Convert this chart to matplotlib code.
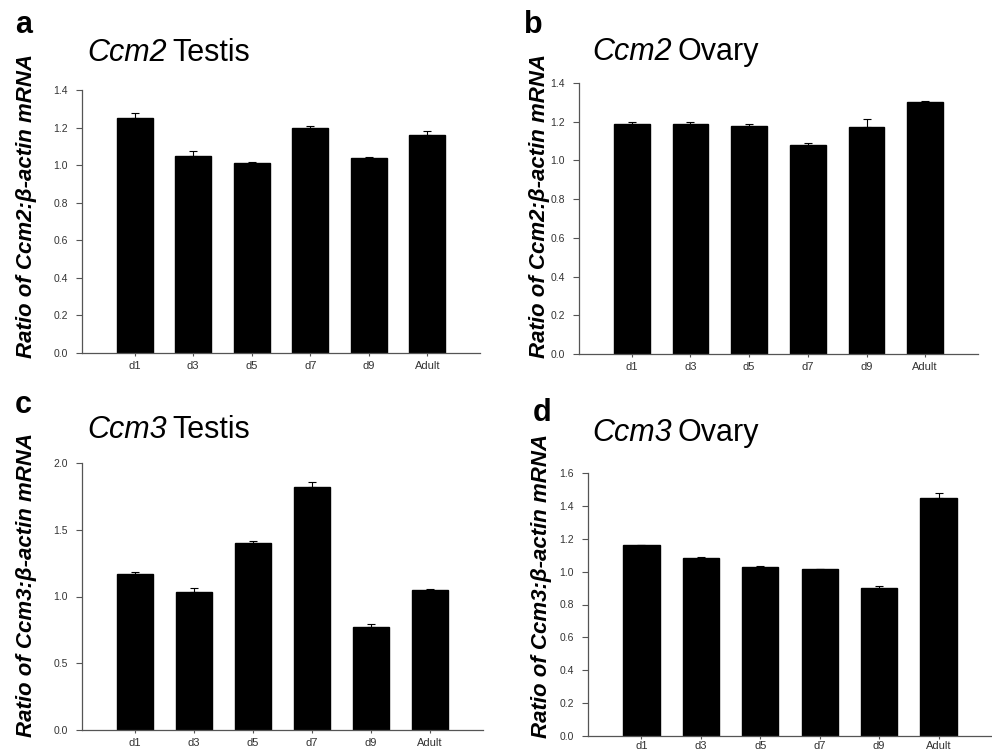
import matplotlib

matplotlib.use("Agg")
import matplotlib.pyplot as plt  # noqa: E402

plt.rcParams["font.family"] = ["Liberation Sans", "DejaVu Sans"]

W, H = 992, 750

groups = ["d1", "d3", "d5", "d7", "d9", "Adult"]

ccm2_testis = [1.25, 1.05, 1.01, 1.20, 1.04, 1.16]
ccm2_testis_err = [0.025, 0.025, 0.006, 0.006, 0.005, 0.02]
ccm2_ovary = [1.19, 1.19, 1.18, 1.08, 1.175, 1.30]
ccm2_ovary_err = [0.006, 0.006, 0.01, 0.01, 0.04, 0.006]
ccm3_testis = [1.165, 1.035, 1.40, 1.82, 0.775, 1.05]
ccm3_testis_err = [0.017, 0.032, 0.012, 0.037, 0.017, 0.007]
ccm3_ovary = [1.16, 1.085, 1.03, 1.015, 0.90, 1.45]
ccm3_ovary_err = [0.005, 0.002, 0.002, 0.003, 0.012, 0.03]

yticks_a = [0.0, 0.2, 0.4, 0.6, 0.8, 1.0, 1.2, 1.4]
yticks_c = [0.0, 0.5, 1.0, 1.5, 2.0]
yticks_d = [0.0, 0.2, 0.4, 0.6, 0.8, 1.0, 1.2, 1.4, 1.6]

# panel layout in pixels: (left, right, top, bottom) of the axes frame
panels = [
    dict(letter="a", gene="Ccm2", tissue="Testis", vals=ccm2_testis, err=ccm2_testis_err,
         ticks=yticks_a, box=(82, 480, 90, 353), letter_xy=(15, 25), title_xy=(87, 53),
         ylab_xy=(27, 358), xpad=3.5),
    dict(letter="b", gene="Ccm2", tissue="Ovary", vals=ccm2_ovary, err=ccm2_ovary_err,
         ticks=yticks_a, box=(579, 978, 83, 354), letter_xy=(524, 25), title_xy=(592, 52),
         ylab_xy=(539, 358), xpad=3.5),
    dict(letter="c", gene="Ccm3", tissue="Testis", vals=ccm3_testis, err=ccm3_testis_err,
         ticks=yticks_c, box=(82, 483, 463, 730), letter_xy=(15, 405), title_xy=(87, 430),
         ylab_xy=(27, 737), xpad=3),
    dict(letter="d", gene="Ccm3", tissue="Ovary", vals=ccm3_ovary, err=ccm3_ovary_err,
         ticks=yticks_d, box=(588, 992, 473, 736), letter_xy=(533, 413), title_xy=(592, 433),
         ylab_xy=(541, 738), xpad=1),
]

fig = plt.figure(figsize=(W / 100, H / 100), dpi=100)
renderer = fig.canvas.get_renderer()

for p in panels:
    l, r, t, b = p["box"]
    ax = fig.add_axes([l / W, 1 - b / H, (r - l) / W, (b - t) / H])
    x = range(len(groups))
    ax.bar(x, p["vals"], width=0.61, color="black", edgecolor="black",
           yerr=[[0] * len(groups), p["err"]], capsize=3,
           error_kw=dict(ecolor="black", elinewidth=0.8, capthick=0.8))
    ax.set_xlim(-0.9, 5.9)
    ax.set_ylim(0, p["ticks"][-1])
    ax.set_yticks(p["ticks"])
    ax.set_yticklabels([f"{v:.1f}" for v in p["ticks"]])
    ax.set_xticks(list(x))
    ax.set_xticklabels(groups)
    ax.tick_params(axis="y", length=4, width=0.8, pad=6, labelsize=7.5,
                   colors="#555555", labelcolor="#333333")
    ax.tick_params(axis="x", length=2.5, width=0.8, pad=p["xpad"], labelsize=8,
                   colors="#555555", labelcolor="#333333")
    for side in ("top", "right"):
        ax.spines[side].set_visible(False)
    for side in ("left", "bottom"):
        ax.spines[side].set_color("#555555")
        ax.spines[side].set_linewidth(0.9)

    lx, ly = p["letter_xy"]
    fig.text(lx / W, 1 - ly / H, p["letter"], fontsize=22, fontweight="bold",
             ha="left", va="center")

    # title: italic gene name followed by upright tissue name
    tx, ty = p["title_xy"]
    gene = fig.text(tx / W, 1 - ty / H, p["gene"], fontsize=22, fontstyle="italic",
                    ha="left", va="center")
    gx1 = gene.get_window_extent(renderer).x1
    fig.text(gx1 / W + 6 / W, 1 - ty / H, p["tissue"], fontsize=22,
             ha="left", va="center")

    yx, yy = p["ylab_xy"]
    fig.text(yx / W, 1 - yy / H, f"Ratio of {p['gene']}:β-actin mRNA", fontsize=16,
             fontweight="bold", fontstyle="italic", rotation=90, ha="center", va="bottom")

fig.savefig("out.png", dpi=100)
